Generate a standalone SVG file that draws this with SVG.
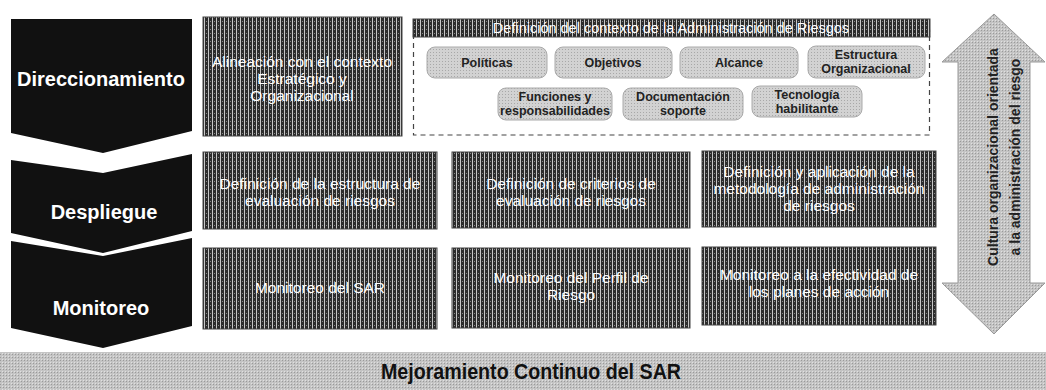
<svg xmlns="http://www.w3.org/2000/svg" width="1046" height="390" viewBox="0 0 1046 390">
<style>
.chev{fill:#111}
.ctxt{font-family:"Liberation Sans",Arial,sans-serif;font-weight:bold;font-size:20px;fill:#fff;text-anchor:middle}
.hbox{fill:url(#dark);stroke:#444;stroke-width:1}
.htxt{font-family:"Liberation Sans",Arial,sans-serif;font-size:15.5px;fill:#fff;text-anchor:middle}
.pill{fill:url(#light);stroke:#aaa;stroke-width:1}
.ptxt{font-family:"Liberation Sans",Arial,sans-serif;font-weight:bold;font-size:12.5px;fill:#222;text-anchor:middle}
.btxt{font-family:"Liberation Sans",Arial,sans-serif;font-weight:bold;font-size:22px;fill:#111;text-anchor:middle}
.atxt{font-family:"Liberation Sans",Arial,sans-serif;font-weight:bold;font-size:14px;fill:#222;text-anchor:middle}
</style>
<defs>
<pattern id="dark" width="4" height="4" patternUnits="userSpaceOnUse">
<rect width="4" height="4" fill="#2c2c2c"/>
<rect x="0" y="0" width="1" height="4" fill="#c8c8c8"/>
<rect x="2" y="1" width="1" height="1" fill="#888"/>
</pattern>
<pattern id="light" width="3" height="3" patternUnits="userSpaceOnUse">
<rect width="3" height="3" fill="#d2d2d2"/>
<rect x="1" y="1" width="1" height="1" fill="#a8a8a8"/>
</pattern>
<pattern id="mid" width="3" height="3" patternUnits="userSpaceOnUse">
<rect width="3" height="3" fill="#c4c4c4"/>
<rect x="0" y="0" width="1" height="1" fill="#9a9a9a"/>
<rect x="2" y="2" width="1" height="1" fill="#e0e0e0"/>
</pattern>
</defs>
<rect width="1046" height="390" fill="#fff"/>

<g id="stage-direccionamiento">
<polygon class="chev" points="11,19 192,19 192,131 103,153 11,133"/>
<text class="ctxt" x="101" y="86">Direccionamiento</text>
</g>
<g id="stage-despliegue">
<polygon class="chev" points="11,160 103,173 192,154 192,231 103,253 11,233"/>
<text class="ctxt" x="104" y="219">Despliegue</text>
</g>
<g id="stage-monitoreo">
<polygon class="chev" points="11,241 103,256 192,238 192,326 103,348 11,328"/>
<text class="ctxt" x="101" y="315">Monitoreo</text>
</g>

<g id="alineacion">
<rect class="hbox" x="203" y="17" width="199" height="119"/>
<text class="htxt" x="302" y="67">Alineación con el contexto</text>
<text class="htxt" x="302" y="84">Estratégico y</text>
<text class="htxt" x="302" y="101">Organizacional</text>
</g>

<g id="contexto">
<rect x="413.5" y="30" width="516" height="105" fill="none" stroke="#444" stroke-width="1.2" stroke-dasharray="5,4"/>
<rect class="hbox" x="413" y="19" width="517" height="18"/>
<text class="htxt" x="671" y="33" style="font-size:14.5px">Definición del contexto de la Administración de Riesgos</text>
</g>

<g id="politicas"><rect class="pill" x="427" y="47" width="120" height="31" rx="8"/><text class="ptxt" x="487" y="67">Políticas</text></g>
<g id="objetivos"><rect class="pill" x="555" y="47" width="117" height="31" rx="8"/><text class="ptxt" x="613" y="67">Objetivos</text></g>
<g id="alcance"><rect class="pill" x="680" y="47" width="118" height="31" rx="8"/><text class="ptxt" x="739" y="67">Alcance</text></g>
<g id="estructura"><rect class="pill" x="808" y="46" width="117" height="32" rx="8"/><text class="ptxt" x="866" y="59">Estructura</text><text class="ptxt" x="866" y="73">Organizacional</text></g>
<g id="funciones"><rect class="pill" x="498" y="88" width="114" height="32" rx="8"/><text class="ptxt" x="555" y="101">Funciones y</text><text class="ptxt" x="555" y="115">responsabilidades</text></g>
<g id="documentacion"><rect class="pill" x="623" y="88" width="120" height="32" rx="8"/><text class="ptxt" x="683" y="101">Documentación</text><text class="ptxt" x="683" y="115">soporte</text></g>
<g id="tecnologia"><rect class="pill" x="752" y="86" width="110" height="31" rx="8"/><text class="ptxt" x="807" y="99">Tecnología</text><text class="ptxt" x="807" y="113">habilitante</text></g>

<g id="estructura-eval">
<rect class="hbox" x="203" y="152" width="234" height="77"/>
<text class="htxt" x="320" y="189">Definición de la estructura de</text>
<text class="htxt" x="320" y="206">evaluación de riesgos</text>
</g>
<g id="criterios-eval">
<rect class="hbox" x="452" y="152" width="238" height="76"/>
<text class="htxt" x="571" y="189">Definición de criterios de</text>
<text class="htxt" x="571" y="206">evaluación de riesgos</text>
</g>
<g id="metodologia">
<rect class="hbox" x="702" y="151" width="234" height="76"/>
<text class="htxt" x="819" y="177">Definición y aplicación de la</text>
<text class="htxt" x="819" y="194">metodología de administración</text>
<text class="htxt" x="819" y="211">de riesgos</text>
</g>

<g id="monitoreo-sar">
<rect class="hbox" x="203" y="248" width="234" height="81"/>
<text class="htxt" x="320" y="293">Monitoreo del SAR</text>
</g>
<g id="monitoreo-perfil">
<rect class="hbox" x="452" y="248" width="238" height="80"/>
<text class="htxt" x="571" y="283">Monitoreo del Perfil de</text>
<text class="htxt" x="571" y="300">Riesgo</text>
</g>
<g id="monitoreo-planes">
<rect class="hbox" x="702" y="247" width="234" height="78"/>
<text class="htxt" x="819" y="280">Monitoreo a la efectividad de</text>
<text class="htxt" x="819" y="297">los planes de acción</text>
</g>

<g id="cultura">
<polygon points="994,14 1045,62 1030,62 1030,283 1045,283 994,334 942,283 958,283 958,62 942,62" fill="url(#mid)" stroke="#999" stroke-width="1"/>
<text class="atxt" transform="translate(998,157) rotate(-90)">Cultura organizacional orientada</text>
<text class="atxt" transform="translate(1020,157) rotate(-90)">a la administración del riesgo</text>
</g>

<g id="mejoramiento">
<rect x="0" y="352" width="1046" height="38" fill="url(#mid)"/>
<text class="btxt" x="531" y="379" textLength="300" lengthAdjust="spacingAndGlyphs">Mejoramiento Continuo del SAR</text>
</g>

<g id="connectors"></g>
</svg>
